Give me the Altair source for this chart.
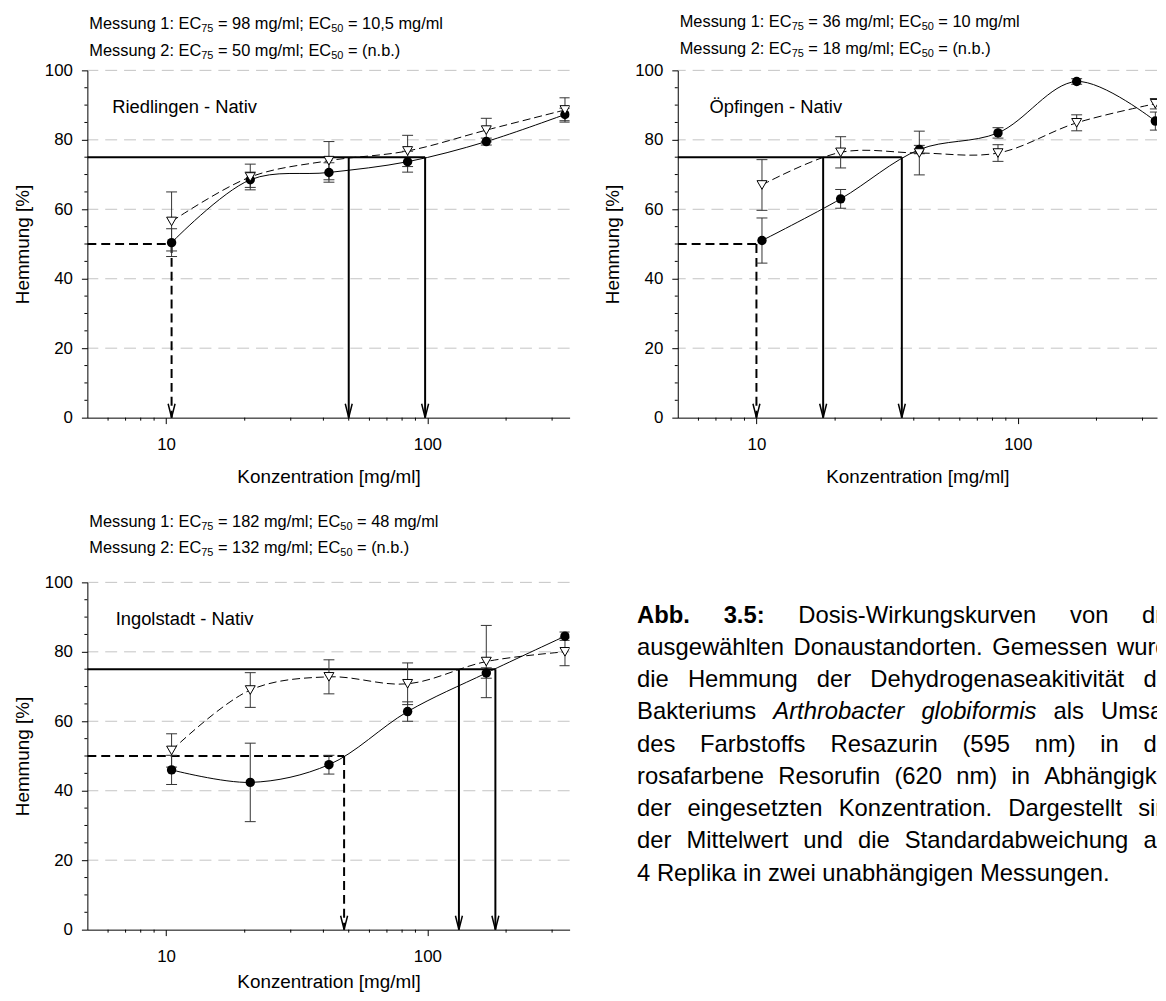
import math
import altair as alt
import pandas as pd

FONT = "Liberation Sans"

# ---------------- data ----------------
CONC = [10.5, 21, 42, 84, 168, 336]

RIED_M1 = [50.4, 68.5, 70.6, 73.7, 79.5, 87.3]
RIED_SD1 = [4.0, 2.2, 2.8, 3.0, 1.0, 1.8]
RIED_M2 = [56.5, 69.3, 74.0, 76.8, 82.8, 88.6]
RIED_SD2 = [8.5, 3.7, 5.5, 4.5, 3.4, 3.5]
RIED_EC75 = [98, 50]
RIED_EC50 = [10.5]

OPF_M1 = [51.0, 63.0, 77.2, 82.0, 96.8, 85.4]
OPF_SD1 = [6.5, 2.7, 1.2, 1.5, 0.8, 2.6]
OPF_M2 = [67.0, 76.4, 76.2, 76.2, 84.9, 90.4]
OPF_SD2 = [7.3, 4.5, 6.3, 2.4, 2.3, 1.5]
OPF_EC75 = [36, 18]
OPF_EC50 = [10]

ING_M1 = [46.0, 42.4, 47.5, 62.8, 73.9, 84.5]
ING_SD1 = [4.2, 11.3, 2.7, 2.8, 1.5, 1.2]
ING_M2 = [51.6, 69.0, 72.8, 70.8, 77.2, 80.0]
ING_SD2 = [4.8, 5.0, 4.9, 6.0, 10.4, 4.0]
ING_EC75 = [182, 132]
ING_EC50 = [48]

RIED_TITLE = [["Messung 1: EC", "75", " = 98 mg/ml; EC", "50", " = 10,5 mg/ml"],
              ["Messung 2: EC", "75", " = 50 mg/ml; EC", "50", " = (n.b.)"]]
OPF_TITLE = [["Messung 1: EC", "75", " = 36 mg/ml; EC", "50", " = 10 mg/ml"],
             ["Messung 2: EC", "75", " = 18 mg/ml; EC", "50", " = (n.b.)"]]
ING_TITLE = [["Messung 1: EC", "75", " = 182 mg/ml; EC", "50", " = 48 mg/ml"],
             ["Messung 2: EC", "75", " = 132 mg/ml; EC", "50", " = (n.b.)"]]

X_TICKS = [10, 100]
X_MINOR = [6, 7, 8, 9, 20, 30, 40, 50, 60, 70, 80, 90, 200, 300]
Y_TICKS = [0, 20, 40, 60, 80, 100]
Y_MINOR = [v for v in range(5, 100, 5) if v % 20]
Y_GRID = [20, 40, 60, 80, 100]

CAPTION = [
    "**Abb.** **3.5:** Dosis-Wirkungskurven von drei",
    "ausgewählten Donaustandorten. Gemessen wurde",
    "die Hemmung der Dehydrogenaseakitivität des",
    "Bakteriums *Arthrobacter* *globiformis* als Umsatz",
    "des Farbstoffs Resazurin (595 nm) in das",
    "rosafarbene Resorufin (620 nm) in Abhängigkeit",
    "der eingesetzten Konzentration. Dargestellt sind",
    "der Mittelwert und die Standardabweichung aus",
    "4 Replika in zwei unabhängigen Messungen.",
]

# ---------------- layout constants ----------------
W, H = 486, 350
XMIN, XMAX = 5, 350
DEC = W / math.log10(XMAX / XMIN)          # pixels per decade
W2 = 483                                    # right panel is cut by the page edge
XMAX2 = XMIN * 10 ** (W2 / DEC)
TITLE_FS, SUB_FS, SUB_DY, TITLE_X = 16.5, 11, 5, 2
CAP_W, CAP_COL, CAP_FS = 524, 549, 24
CAP_Y0, CAP_DY = 33.5, 32.5
ARROW = "M-1,-4L0,0L1,-4"
CAP_SHAPE = "M-1,0L1,0"

# Arial / Liberation Sans advance widths (per 1000 em)
REG = {" ": 278, ".": 278, ",": 278, ":": 278, ";": 278, "-": 333, "/": 278, "=": 584,
       "(": 333, ")": 333, "[": 278, "]": 278, "%": 889}
for c in "0123456789":
    REG[c] = 556
REG.update(dict(zip("abcdefghijklmnopqrstuvwxyz",
                    [556, 556, 500, 556, 556, 278, 556, 556, 222, 222, 500, 222, 833,
                     556, 556, 556, 556, 333, 500, 278, 556, 500, 722, 500, 500, 500])))
REG.update(dict(zip("ABCDEFGHIJKLMNOPQRSTUVWXYZ",
                    [667, 667, 722, 722, 667, 611, 778, 722, 278, 500, 667, 556, 833,
                     722, 778, 667, 778, 722, 667, 611, 722, 667, 944, 667, 667, 611])))
REG.update({"ä": 556, "ö": 556, "ü": 556, "Ö": 778})
BOLD = {"A": 722, "b": 611, ".": 278, "3": 556, "5": 556, ":": 333, " ": 278}


def tw(s, size, bold=False):
    t = BOLD if bold else REG
    return sum(t.get(c, 556) for c in s) * size / 1000.0


def one_row():
    return pd.DataFrame({"k": [0]})


def title_layers(lines, ys):
    out = []
    for line, y in zip(lines, ys):
        x = TITLE_X
        for i, piece in enumerate(line):
            sub = i % 2 == 1
            fs = SUB_FS if sub else TITLE_FS
            lead = len(piece) - len(piece.lstrip(" "))
            x0 = x + tw(" " * lead, fs)
            out.append(
                alt.Chart(one_row()).mark_text(align="left", baseline="middle", font=FONT,
                                               fontSize=fs, fill="black")
                .encode(x=alt.value(x0), y=alt.value(y + (SUB_DY if sub else 0)),
                        text=alt.value(piece.lstrip(" ")))
            )
            x += tw(piece, fs)
    return out


def panel(label, label_dx, label_dy, m1, sd1, m2, sd2, ec75, ec50, title, title_ys, xtp,
          width=W, xmax=XMAX):
    xs = alt.Scale(type="log", domain=[XMIN, xmax], nice=False)
    ys = alt.Scale(domain=[0, 100], nice=False, zero=False)

    def X(f, axis=alt.Undefined):
        return alt.X(f, type="quantitative", scale=xs, axis=axis)

    def Y(f, axis=alt.Undefined):
        return alt.Y(f, type="quantitative", scale=ys, axis=axis)

    xaxis = alt.Axis(values=X_TICKS, labelExpr="datum.value == 10 ? '10' : datum.value == 100 ? '100' : ''",
                     tickSize=6, tickColor="black", domainColor="black", labelColor="black",
                     titleColor="black", labelFont=FONT, titleFont=FONT, labelFontSize=17,
                     titleFontSize=19, titleFontWeight="normal", labelPadding=13, titlePadding=xtp,
                     title="Konzentration [mg/ml]", grid=False, zindex=1, labelFlush=False,
                     labelOverlap=False)
    yaxis = alt.Axis(values=Y_TICKS, format="d", tickSize=6, tickColor="black", domainColor="black",
                     labelColor="black", titleColor="black", labelFont=FONT, titleFont=FONT,
                     labelFontSize=17, titleFontSize=19, titleFontWeight="normal", labelPadding=9,
                     titlePadding=12, title="Hemmung [%]", grid=False, zindex=1, labelFlush=False,
                     labelOverlap=False)

    grid = alt.Chart(pd.DataFrame({"g": Y_GRID})).mark_rule(
        color="#c4c4c4", strokeWidth=1, strokeDash=[12, 7]).encode(y=Y("g:Q", yaxis))
    xminor = alt.Chart(pd.DataFrame({"v": X_MINOR})).mark_rule(color="black", strokeWidth=1).encode(
        x=X("v:Q", xaxis), y=alt.value(H), y2=alt.value(H + 3))
    yminor = alt.Chart(pd.DataFrame({"v": Y_MINOR})).mark_rule(color="black", strokeWidth=1).encode(
        y=Y("v:Q"), x=alt.value(0), x2=alt.value(-3))

    h75 = alt.Chart(pd.DataFrame({"x": [XMIN], "x2": [max(ec75)], "y": [75]})).mark_rule(
        color="black", strokeWidth=2).encode(x=X("x:Q"), x2=alt.X2("x2:Q"), y=Y("y:Q"))
    v75 = alt.Chart(pd.DataFrame({"x": ec75, "y": [75] * len(ec75), "y2": [0] * len(ec75)})).mark_rule(
        color="black", strokeWidth=2).encode(x=X("x:Q"), y=Y("y:Q"), y2=alt.Y2("y2:Q"))
    h50 = alt.Chart(pd.DataFrame({"x": [XMIN], "x2": [max(ec50)], "y": [50]})).mark_rule(
        color="black", strokeWidth=2, strokeDash=[9, 5]).encode(x=X("x:Q"), x2=alt.X2("x2:Q"), y=Y("y:Q"))
    v50 = alt.Chart(pd.DataFrame({"x": ec50, "y": [50] * len(ec50), "y2": [0] * len(ec50)})).mark_rule(
        color="black", strokeWidth=2, strokeDash=[9, 5]).encode(x=X("x:Q"), y=Y("y:Q"), y2=alt.Y2("y2:Q"))
    arrows = alt.Chart(pd.DataFrame({"x": ec75 + ec50, "y": [0] * (len(ec75) + len(ec50))})).mark_point(
        shape=ARROW, filled=False, color="black", size=49, strokeWidth=1.5, opacity=1).encode(
        x=X("x:Q"), y=Y("y:Q"))

    layers = [grid, xminor, yminor, h75, v75, h50, v50, arrows]

    series = []
    for m, sd in ((m1, sd1), (m2, sd2)):
        df = pd.DataFrame({"conc": CONC, "m": m,
                           "lo": [a - b for a, b in zip(m, sd)],
                           "hi": [a + b for a, b in zip(m, sd)]})
        caps = pd.DataFrame({"conc": CONC + CONC, "v": list(df["lo"]) + list(df["hi"])})
        series.append(df)
        layers.append(alt.Chart(df).mark_rule(color="#333333", strokeWidth=1, clip=True).encode(
            x=X("conc:Q"), y=Y("lo:Q"), y2=alt.Y2("hi:Q")))
        layers.append(alt.Chart(caps).mark_point(shape=CAP_SHAPE, filled=False, color="#333333",
                                                 size=121, strokeWidth=1, opacity=1, clip=True).encode(
            x=X("conc:Q"), y=Y("v:Q")))

    line1 = alt.Chart(series[0]).mark_line(color="black", strokeWidth=1, interpolate="catmull-rom",
                                           clip=True).encode(x=X("conc:Q"), y=Y("m:Q"))
    line2 = alt.Chart(series[1]).mark_line(color="black", strokeWidth=1, strokeDash=[8, 4],
                                           interpolate="catmull-rom", clip=True).encode(
        x=X("conc:Q"), y=Y("m:Q"))
    pts1 = alt.Chart(series[0]).mark_point(shape="circle", filled=True, color="black", size=90,
                                           opacity=1, clip=True).encode(x=X("conc:Q"), y=Y("m:Q"))
    pts2 = alt.Chart(series[1]).mark_point(shape="triangle-down", filled=True, fill="white",
                                           stroke="black", strokeWidth=1, size=100, opacity=1,
                                           clip=True).encode(x=X("conc:Q"), y=Y("m:Q"))
    lab = alt.Chart(one_row()).mark_text(align="left", baseline="middle", font=FONT, fontSize=18.5,
                                         fill="black").encode(
        x=alt.value(label_dx), y=alt.value(label_dy), text=alt.value(label))

    layers += [line1, line2, pts1, pts2, lab] + title_layers(title, title_ys)
    return alt.layer(*layers).properties(width=width, height=H)


def caption_view():
    rows = []
    for i, line in enumerate(CAPTION):
        words = []
        for w in line.split(" "):
            if w.startswith("**"):
                words.append((w.strip("*"), "bold"))
            elif w.startswith("*"):
                words.append((w.strip("*"), "italic"))
            else:
                words.append((w, "normal"))
        widths = [tw(t, CAP_FS, st == "bold") for t, st in words]
        if i == len(CAPTION) - 1:
            gap = tw(" ", CAP_FS)
        else:
            gap = (CAP_COL - sum(widths)) / (len(words) - 1)
        x = 0.0
        for (t, st), wd in zip(words, widths):
            rows.append({"w": t, "x": x, "y": CAP_Y0 + i * CAP_DY, "st": st})
            x += wd + gap
    df = pd.DataFrame(rows)
    cxs = alt.Scale(domain=[0, CAP_W], nice=False, zero=False)
    cys = alt.Scale(domain=[0, H], nice=False, zero=False, reverse=True)
    layers = []
    for st in ("normal", "bold", "italic"):
        kw = {}
        if st == "bold":
            kw["fontWeight"] = "bold"
        if st == "italic":
            kw["fontStyle"] = "italic"
        layers.append(
            alt.Chart(df[df["st"] == st]).mark_text(align="left", baseline="middle", font=FONT,
                                                    fontSize=CAP_FS, fill="black", clip=True, **kw)
            .encode(x=alt.X("x:Q", scale=cxs, axis=None), y=alt.Y("y:Q", scale=cys, axis=None),
                    text="w:N")
        )
    return alt.layer(*layers).properties(width=CAP_W, height=H)


p1 = panel("Riedlingen - Nativ", 25, 36.7, RIED_M1, RIED_SD1, RIED_M2, RIED_SD2,
           RIED_EC75, RIED_EC50, RIED_TITLE, [-46.3, -19.7], 15)
p2 = panel("Öpfingen - Nativ", 32, 37, OPF_M1, OPF_SD1, OPF_M2, OPF_SD2,
           OPF_EC75, OPF_EC50, OPF_TITLE, [-49, -21.3], 15, width=W2, xmax=XMAX2)
p3 = panel("Ingolstadt - Nativ", 28.5, 36.7, ING_M1, ING_SD1, ING_M2, ING_SD2,
           ING_EC75, ING_EC50, ING_TITLE, [-60.3, -34.7], 8)
cap = caption_view()

top = alt.hconcat(p1, p2, spacing=109, bounds="flush")
bottom = alt.hconcat(p3, cap, spacing=68, bounds="flush")
chart = alt.vconcat(top, bottom, spacing=28).properties(
    padding={"left": 5, "top": 2, "right": 0, "bottom": 0}
).configure_view(strokeWidth=0)

chart.save("out.html", embed_options={"renderer": "svg", "actions": False})
